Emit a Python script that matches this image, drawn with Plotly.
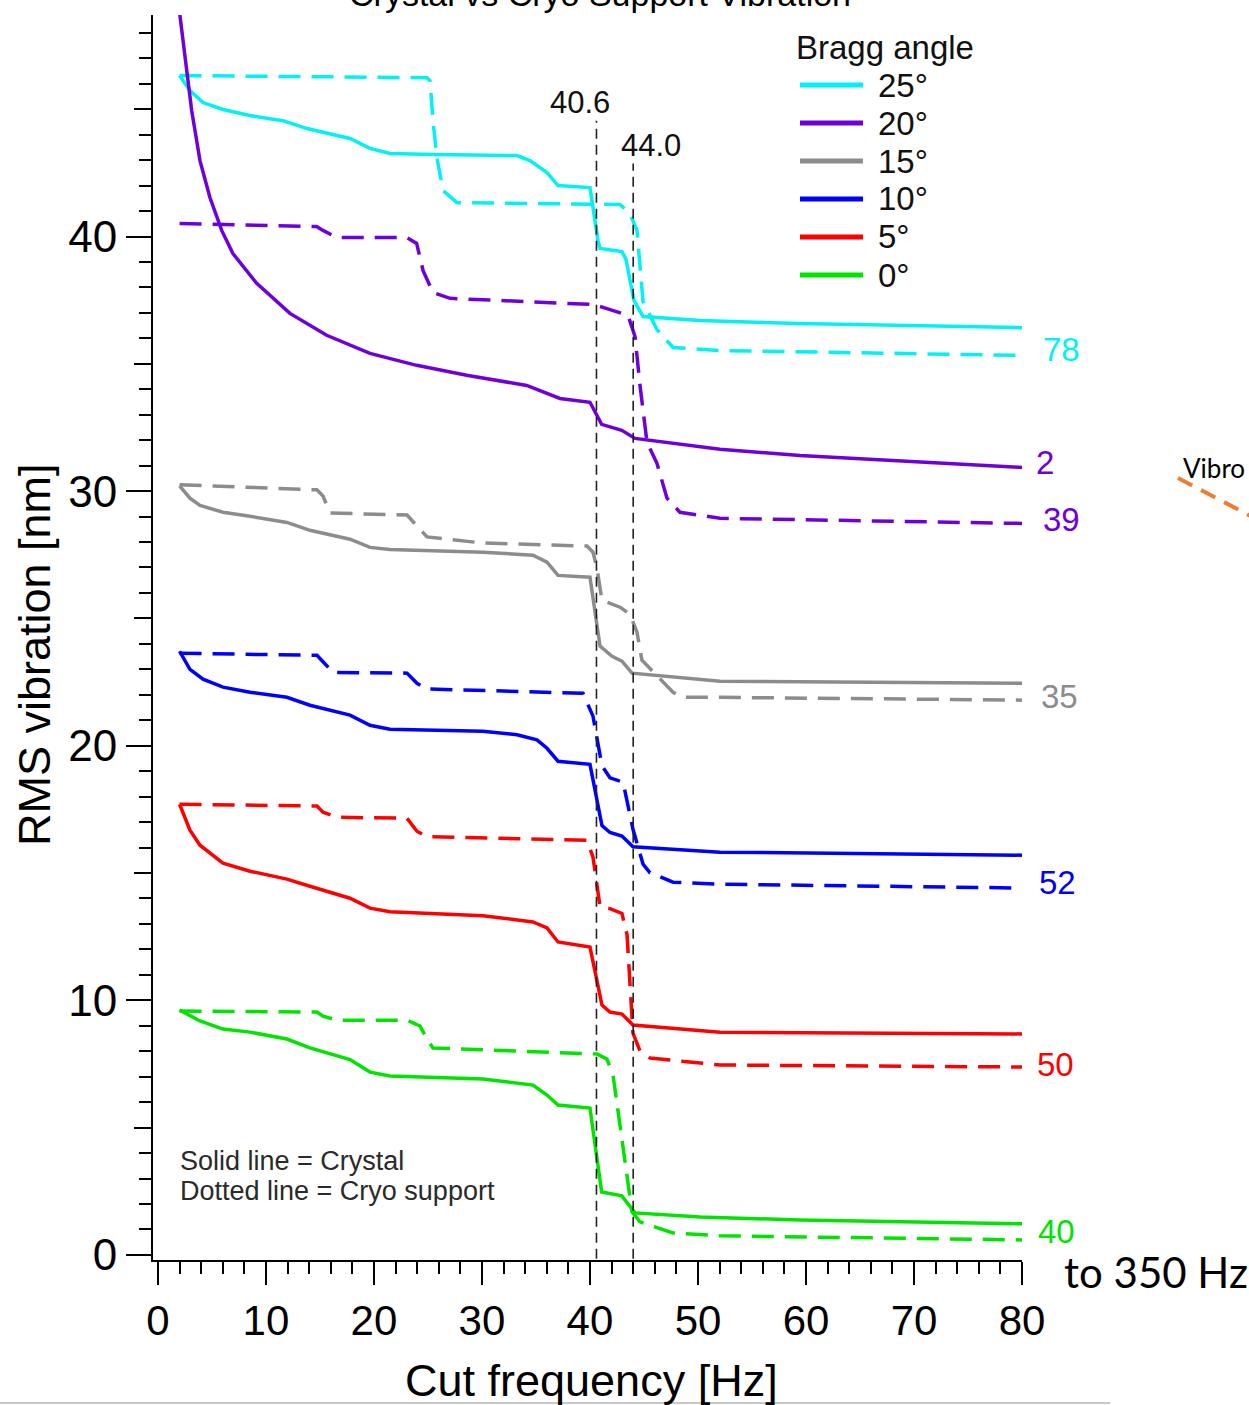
import plotly.graph_objects as go

# ---------------------------------------------------------------------------
# Data: RMS vibration [nm] versus cut frequency [Hz] per Bragg angle
# ---------------------------------------------------------------------------
angles = ["25°", "20°", "15°", "10°", "5°", "0°"]
colors = ["#00F2F2", "#6E00DC", "#8C8C8C", "#0000FF", "#FF0000", "#00E400"]

# Crystal (solid lines)
crystal_25_hz = [2.0, 2.96, 4.17, 6.02, 8.52, 11.57, 13.8, 17.78, 19.63, 21.48, 25.46, 33.24, 34.44,
                 36.02, 37.04, 40.0, 40.74, 40.93, 42.96, 43.33, 44.07, 44.91, 50.19, 59.44, 80.0]
crystal_25_nm = [46.32, 45.73, 45.26, 44.99, 44.75, 44.55, 44.24, 43.85, 43.46, 43.26, 43.22, 43.18, 42.98,
                 42.51, 42.0, 41.92, 39.84, 39.53, 39.41, 39.1, 37.49, 36.86, 36.7, 36.58, 36.42]

crystal_20_hz = [2.0, 2.66, 3.12, 3.89, 4.81, 5.9, 6.94, 9.14, 12.22, 15.62, 19.63, 23.95, 28.58, 34.14,
                 35.99, 37.22, 40.0, 41.08, 42.94, 44.17, 52.04, 59.44, 80.0]
crystal_20_nm = [48.8, 46.5, 44.95, 42.98, 41.53, 40.24, 39.33, 38.16, 36.98, 36.12, 35.41, 34.94, 34.55, 34.15,
                 33.84, 33.64, 33.49, 32.62, 32.39, 32.07, 31.64, 31.4, 30.93]

crystal_15_hz = [2.0, 2.96, 3.89, 6.02, 8.52, 11.94, 14.07, 17.78, 19.63, 21.48, 30.09, 34.72, 36.02, 37.04,
                 40.0, 40.93, 42.04, 42.96, 43.89, 52.04, 80.0]
crystal_15_nm = [30.21, 29.72, 29.44, 29.17, 29.01, 28.77, 28.46, 28.11, 27.79, 27.71, 27.6, 27.48, 27.21, 26.69,
                 26.62, 23.91, 23.51, 23.32, 22.85, 22.53, 22.45]

crystal_10_hz = [2.0, 2.96, 4.17, 6.02, 8.52, 11.94, 14.07, 17.78, 19.63, 21.48, 30.09, 33.24, 35.09, 36.02,
                 37.04, 40.0, 41.11, 41.85, 42.96, 43.98, 52.04, 80.0]
crystal_10_nm = [23.71, 23.0, 22.61, 22.3, 22.1, 21.9, 21.59, 21.2, 20.8, 20.65, 20.57, 20.43, 20.23, 19.9,
                 19.39, 19.27, 16.86, 16.59, 16.45, 16.03, 15.82, 15.7]

crystal_5_hz = [2.0, 2.96, 3.89, 6.02, 8.52, 11.94, 14.07, 17.78, 19.63, 21.48, 30.09, 34.72, 36.02, 37.04,
                40.0, 41.11, 41.85, 42.96, 43.98, 52.04, 80.0]
crystal_5_nm = [17.7, 16.68, 16.09, 15.39, 15.07, 14.76, 14.48, 14.01, 13.62, 13.48, 13.32, 13.08, 12.84, 12.29,
                12.09, 9.81, 9.54, 9.46, 9.03, 8.75, 8.68]

crystal_0_hz = [2.0, 3.89, 6.02, 8.52, 11.94, 14.07, 17.78, 19.63, 21.48, 30.09, 34.72, 36.02, 37.04, 40.0,
                41.08, 42.94, 44.17, 50.19, 59.44, 80.0]
crystal_0_nm = [9.62, 9.19, 8.87, 8.75, 8.48, 8.13, 7.67, 7.18, 7.03, 6.91, 6.67, 6.28, 5.89, 5.77,
                2.47, 2.32, 1.65, 1.49, 1.37, 1.22]

# Cryo support (dashed lines)
support_25_hz = [2.0, 24.9, 25.19, 25.46, 25.83, 26.39, 27.69, 39.35, 42.78, 43.7, 44.35, 44.91, 46.2, 47.69,
                 52.04, 80.0]
support_25_nm = [46.32, 46.24, 46.12, 44.55, 43.1, 41.81, 41.33, 41.26, 41.26, 40.9, 40.24, 37.45, 36.35, 35.64,
                 35.52, 35.33]

support_20_hz = [2.0, 14.69, 15.28, 16.55, 23.03, 23.95, 24.54, 25.46, 27.04, 40.28, 41.57, 43.52, 44.17, 44.63,
                 45.28, 46.2, 47.13, 48.33, 52.04, 80.0]
support_20_nm = [40.51, 40.39, 40.24, 39.96, 39.96, 39.73, 38.67, 37.8, 37.57, 37.33, 37.17, 36.9, 36.07, 34.15,
                 31.91, 31.09, 29.72, 29.17, 28.93, 28.73]

support_15_hz = [2.0, 14.72, 15.28, 15.93, 23.06, 23.98, 24.91, 30.09, 39.72, 40.28, 40.65, 41.11, 42.78, 43.7,
                 44.35, 44.81, 47.69, 48.61, 52.04, 80.0]
support_15_nm = [30.25, 30.05, 29.81, 29.14, 29.06, 28.62, 28.2, 27.96, 27.84, 27.6, 26.97, 25.71, 25.44, 25.16,
                 24.46, 23.36, 22.1, 21.9, 21.9, 21.79]

support_10_hz = [2.0, 14.72, 15.28, 16.2, 23.06, 23.98, 24.91, 39.35, 40.28, 41.11, 41.85, 43.06, 43.98, 44.91,
                 45.56, 47.69, 52.04, 80.0]
support_10_nm = [23.63, 23.55, 23.3, 22.88, 22.85, 22.45, 22.23, 22.06, 21.16, 19.21, 18.74, 18.57, 16.72, 15.35,
                 15.01, 14.64, 14.56, 14.41]

support_5_hz = [2.0, 14.72, 15.28, 16.57, 23.06, 23.98, 24.91, 39.72, 40.28, 40.93, 41.85, 42.96, 43.43, 43.98,
                44.63, 45.56, 52.04, 80.0]
support_5_nm = [17.7, 17.63, 17.39, 17.19, 17.15, 16.64, 16.43, 16.29, 15.62, 13.68, 13.6, 13.41, 12.58, 8.71,
                8.01, 7.73, 7.46, 7.38]

support_0_hz = [2.0, 14.72, 15.28, 16.57, 23.06, 24.26, 24.91, 25.46, 40.65, 41.57, 42.13, 42.78, 43.43, 43.89,
                44.63, 47.69, 52.04, 80.0]
support_0_nm = [9.58, 9.54, 9.38, 9.22, 9.22, 8.99, 8.48, 8.13, 7.89, 7.69, 7.07, 5.1, 3.14, 1.69,
                1.3, 0.86, 0.75, 0.59]

crystal_hz = [crystal_25_hz, crystal_20_hz, crystal_15_hz, crystal_10_hz, crystal_5_hz, crystal_0_hz]
crystal_nm = [crystal_25_nm, crystal_20_nm, crystal_15_nm, crystal_10_nm, crystal_5_nm, crystal_0_nm]
support_hz = [support_25_hz, support_20_hz, support_15_hz, support_10_hz, support_5_hz, support_0_hz]
support_nm = [support_25_nm, support_20_nm, support_15_nm, support_10_nm, support_5_nm, support_0_nm]

# Cut-frequency markers
cut_hz = [40.6, 44.0]
cut_text = ["40.6", "44.0"]
cut_top_nm = [44.55, 42.87]
cut_label_nm = [45.26, 43.57]

# Numbers printed at the right end of the curves
end_labels = ["78", "2", "39", "35", "52", "50", "40"]
end_label_nm = [35.56, 31.13, 28.89, 21.94, 14.64, 7.46, 0.90]
end_label_colors = [colors[0], colors[1], colors[1], colors[2], colors[3], colors[4], colors[5]]

# ---------------------------------------------------------------------------
# Layout geometry (pixels)
# ---------------------------------------------------------------------------
W, H = 1249, 1405
PL, PR, PT, PB = 153, 1022, 15, 1260


def px_x(px):
    return (px - PL) / (PR - PL)


def px_y(py):
    return (PB - py) / (PB - PT)


FONT = "Liberation Sans, Arial, sans-serif"


def note(px, py, text, size, color="#000000", xanchor="center", family=FONT, **kw):
    """Text placed in page pixels, anchored explicitly."""
    return dict(x=px_x(px), y=px_y(py), xref="paper", yref="paper", text=text, showarrow=False,
                xanchor=xanchor, yanchor="middle", font=dict(family=family, size=size, color=color), **kw)


fig = go.Figure()

for i, ang in enumerate(angles):
    fig.add_trace(go.Scatter(
        x=crystal_hz[i], y=crystal_nm[i], mode="lines", name=f"Crystal {ang}",
        line=dict(color=colors[i], width=3.5), showlegend=False))
    fig.add_trace(go.Scatter(
        x=support_hz[i], y=support_nm[i], mode="lines", name=f"Cryo support {ang}",
        line=dict(color=colors[i], width=3.5, dash="22px,11px"), showlegend=False))

# helper trace for the mid ticks (every 5 nm)
fig.add_trace(go.Scatter(x=[None], y=[None], yaxis="y2", showlegend=False, hoverinfo="skip"))

shapes = []
annotations = []

# vertical cut markers
for hz, top, lbl, lbl_y, shift in zip(cut_hz, cut_top_nm, cut_text, cut_label_nm, [-16, 18]):
    shapes.append(dict(type="line", xref="x", yref="y", x0=hz, x1=hz, y0=-0.15, y1=top,
                       line=dict(color="#222222", width=1.6, dash="10px,6px")))
    annotations.append(dict(x=hz, y=lbl_y, xref="x", yref="y", text=lbl, showarrow=False,
                            xanchor="center", yanchor="middle", xshift=shift,
                            font=dict(family=FONT, size=31, color="#111111")))

# right-end numbers
for lbl, yv, col, xs in zip(end_labels, end_label_nm, end_label_colors, [19, 12, 19, 17, 15, 13, 14]):
    annotations.append(dict(x=80, y=yv, xref="x", yref="y", text=lbl, showarrow=False,
                            xanchor="left", yanchor="middle", xshift=xs,
                            font=dict(family=FONT, size=33, color=col)))

# legend (Bragg angle)
annotations.append(note(885, 47, "Bragg angle", 33, "#111111"))
for k, (ang, col) in enumerate(zip(angles, colors)):
    yy = 85 + 38 * k
    shapes.append(dict(type="line", xref="paper", yref="paper", x0=px_x(800), x1=px_x(863),
                       y0=px_y(yy), y1=px_y(yy), line=dict(color=col, width=5)))
    annotations.append(note(876, yy, ang, 33, "#111111", xanchor="left"))

# line-style note
annotations.append(note(178, 1161, "Solid line = Crystal", 27, "#2a2a2a", xanchor="left"))
annotations.append(note(178, 1191, "Dotted line = Cryo support", 27, "#2a2a2a", xanchor="left"))

# axis titles
annotations.append(note(591, 1380, "Cut frequency [Hz]", 45))
annotations.append(note(35, 655, "RMS vibration [nm]", 45, textangle=-90))

# chart title (runs off the top edge)
annotations.append(note(600, -6, "Crystal vs Cryo Support Vibration", 34))

# range note and neighbouring slide content
annotations.append(note(1062, 1272, "to 350 Hz", 42, xanchor="left", family="Lato, Open Sans, sans-serif"))
annotations.append(note(1181, 468, "Vibro", 26, xanchor="left", family="Lato, Open Sans, sans-serif"))
shapes.append(dict(type="line", xref="paper", yref="paper", x0=px_x(1178), x1=px_x(1262),
                   y0=px_y(478), y1=px_y(522), line=dict(color="#ED7D31", width=4, dash="16px,10px")))
shapes.append(dict(type="line", xref="paper", yref="paper", x0=px_x(0), x1=px_x(1110),
                   y0=px_y(1403), y1=px_y(1403), line=dict(color="#c8c8c8", width=2)))

axis_common = dict(showgrid=False, zeroline=False, showline=True, linecolor="#000000", linewidth=2,
                   ticks="outside", tickcolor="#000000", tickwidth=1.6)

fig.update_layout(
    width=W, height=H,
    margin=dict(l=PL, r=W - PR, t=PT, b=H - PB),
    paper_bgcolor="white", plot_bgcolor="white",
    showlegend=False,
    xaxis=dict(range=[-0.46, 80.0], tickvals=[0, 10, 20, 30, 40, 50, 60, 70, 80], ticklen=23,
               tickfont=dict(family=FONT, size=42, color="#000000"),
               minor=dict(dtick=2, tick0=0, ticklen=12, ticks="outside", tickcolor="#000000", tickwidth=1.6),
               **axis_common),
    yaxis=dict(range=[-0.2, 48.7], tickvals=[0, 10, 20, 30, 40], ticklen=25, ticklabelstandoff=0,
               tickfont=dict(family=FONT, size=44, color="#000000"),
               minor=dict(dtick=1, tick0=0, ticklen=12, ticks="outside", tickcolor="#000000", tickwidth=1.6),
               **axis_common),
    yaxis2=dict(range=[-0.2, 48.7], overlaying="y", side="left", anchor="x", tickvals=[5, 15, 25, 35, 45],
                ticklen=18, ticks="outside", tickcolor="#000000", tickwidth=1.6, showticklabels=False,
                showgrid=False, zeroline=False, showline=False),
    shapes=shapes,
    annotations=annotations,
)

fig.write_html("out.html")
